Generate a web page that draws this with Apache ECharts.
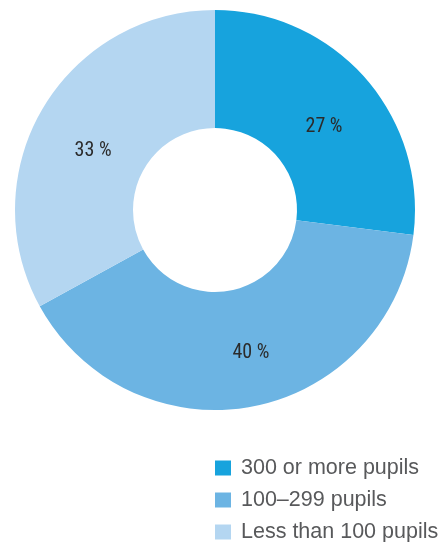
<!DOCTYPE html>
<html>
<head>
<meta charset="utf-8">
<script src="https://cdn.jsdelivr.net/npm/echarts@6/dist/echarts.min.js"></script>
<style>
  html, body { margin: 0; padding: 0; background: #ffffff; }
  #chart { width: 443px; height: 542px; }
</style>
</head>
<body>
<div id="chart"></div>
<script>
// School size distribution
const categories = ['300 or more pupils', '100–299 pupils', 'Less than 100 pupils'];
const shares = [27, 40, 33];
const colors = ['#17a3dd', '#6cb4e3', '#b4d6f1'];
// small nudges for the in-slice percentage labels
const labelNudges = [[1, 12], [9, 2], [2, 14]];

const chart = echarts.init(document.getElementById('chart'), null, { renderer: 'canvas' });

// one single-entry legend per row keeps the key stacked at the bottom right
const legendRows = categories.map((name, i) => ({
  orient: 'vertical',
  left: 215,
  top: 457 + i * 32,
  padding: 0,
  itemWidth: 16,
  itemHeight: 15,
  icon: 'rect',
  data: [name],
  textStyle: {
    fontFamily: 'Liberation Sans, Arial, sans-serif',
    fontSize: 21.5,
    color: '#58595b',
    padding: [0, 0, 0, 5]
  }
}));

chart.setOption({
  animation: false,
  color: colors,
  legend: legendRows,
  series: [{
    type: 'pie',
    center: [215, 210],
    radius: [82, 200],
    startAngle: 90,
    clockwise: true,
    silent: true,
    itemStyle: { borderWidth: 0 },
    label: {
      show: true,
      position: 'inside',
      formatter: p => p.value + ' %',
      fontFamily: 'Liberation Sans Narrow, Roboto Condensed, sans-serif',
      fontSize: 20,
      color: '#2b2b2b'
    },
    labelLine: { show: false },
    data: categories.map((name, i) => ({
      name,
      value: shares[i],
      label: { offset: labelNudges[i] }
    }))
  }]
});
</script>
</body>
</html>
